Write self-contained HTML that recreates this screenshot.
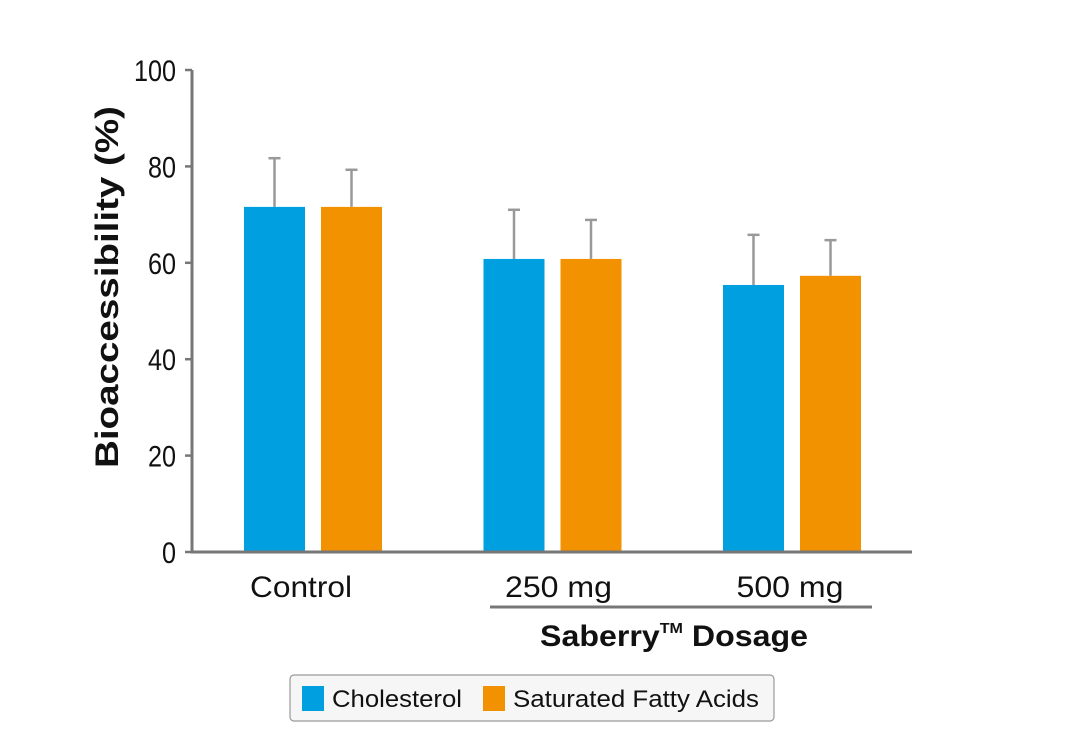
<!DOCTYPE html>
<html><head><meta charset="utf-8"><style>
html,body{margin:0;padding:0;background:#fff;}
svg{display:block;font-family:"Liberation Sans",Arial,sans-serif;}
</style></head><body>
<svg id="chart" width="1079" height="755" viewBox="0 0 1079 755" xmlns="http://www.w3.org/2000/svg">
<g id="axes"></g>
<g id="bars"></g>
<text transform="translate(118,287) rotate(-90)" text-anchor="middle" font-weight="bold" font-size="32" textLength="362" lengthAdjust="spacingAndGlyphs" fill="#111">Bioaccessibility (%)</text>
<line x1="490" y1="607" x2="872" y2="607" stroke="#777" stroke-width="3"/>
<text x="540" y="646" font-weight="bold" font-size="30" textLength="268" lengthAdjust="spacingAndGlyphs" fill="#111">Saberry<tspan font-size="15" dy="-13">TM</tspan><tspan dy="13"> Dosage</tspan></text>
<g>
<rect x="290" y="675" width="484" height="46" rx="4" fill="#f6f6f6" stroke="#999" stroke-width="1.2"/>
<rect x="302" y="686" width="22" height="25" fill="#009fe0"/>
<text x="332" y="707" font-size="24" textLength="130" lengthAdjust="spacingAndGlyphs" fill="#111">Cholesterol</text>
<rect x="483" y="686" width="22" height="25" fill="#f39200"/>
<text x="513" y="707" font-size="24" textLength="246" lengthAdjust="spacingAndGlyphs" fill="#111">Saturated Fatty Acids</text>
</g>
</svg>
<script>
const categories = ["Control", "250 mg", "500 mg"];
const cholesterol = [71.6, 60.8, 55.4];
const cholesterolErr = [10.1, 10.2, 10.4];
const sfa = [71.6, 60.8, 57.3];
const sfaErr = [7.7, 8.1, 7.4];
const yTicks = [0, 20, 40, 60, 80, 100];

const NS = "http://www.w3.org/2000/svg";
const y0 = 552, pxPer = 4.82, xAxis = 192;
function yScale(v){ return y0 - v * pxPer; }
function groupCenter(i){ return 313 + i * 239.5; }
function mk(tag, attrs, parent){ const e = document.createElementNS(NS, tag); for (const k in attrs) e.setAttribute(k, attrs[k]); parent.appendChild(e); return e; }

const axes = document.getElementById("axes");
const bars = document.getElementById("bars");

let yl = mk("line", {x1: xAxis, y1: yScale(100), x2: xAxis, y2: y0 + 1.5, stroke: "#777", "stroke-width": 3}, axes);


let xl = mk("line", {x1: xAxis - 1.5, y1: y0, x2: 912, y2: y0, stroke: "#777", "stroke-width": 3}, axes);



yTicks.forEach(t => {
  const tk = mk("line", {x1: xAxis - 7, y1: yScale(t), x2: xAxis, y2: yScale(t), stroke: "#777", "stroke-width": 2.5}, axes);
  
  
  const ax = 176;
  const tx = mk("text", {x: ax / 0.84, y: yScale(t) + 11, "text-anchor": "end", "font-size": 30, fill: "#111", transform: "scale(0.84,1)"}, axes);
  tx.textContent = t;
  
  
});

const labelOffsets = [-12, 6, -2];
categories.forEach((c, i) => {
  const cx = groupCenter(i);
  const lb = mk("text", {x: cx + labelOffsets[i], y: 597, "text-anchor": "middle", "font-size": 30, fill: "#111", textLength: (i === 0 ? 102 : 107), lengthAdjust: "spacingAndGlyphs"}, axes);
  lb.textContent = c;
  
  
  const series = [[cholesterol, cholesterolErr, "#009fe0", cx - 69, "cholesterol"], [sfa, sfaErr, "#f39200", cx + 8, "sfa"]];
  series.forEach(s => {
    const v = s[0][i], e = s[1][i];
    const bx = s[3], w = 61;
    const ex = bx + w / 2;
    const el = mk("line", {x1: ex, y1: yScale(v), x2: ex, y2: yScale(v + e), stroke: "#999", "stroke-width": 2.5}, bars);
    
    
    const ec = mk("line", {x1: ex - 6, y1: yScale(v + e), x2: ex + 6, y2: yScale(v + e), stroke: "#999", "stroke-width": 2.5}, bars);
    
    
    const r = mk("rect", {x: bx, y: yScale(v), width: w, height: y0 - 1.5 - yScale(v), fill: s[2]}, bars);
    
    
  });
});
</script>
</body></html>
